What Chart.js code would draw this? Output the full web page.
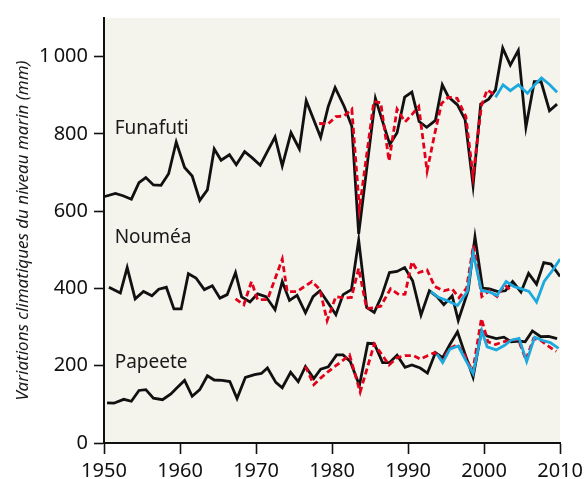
<!DOCTYPE html>
<html>
<head>
<meta charset="utf-8">
<script src="https://cdn.jsdelivr.net/npm/chart.js@4.4.1/dist/chart.umd.min.js"></script>
<style>
  html, body { margin: 0; padding: 0; background: #fff; }
  #wrap { width: 588px; height: 479px; position: relative; }
</style>
</head>
<body>
<div id="wrap"><canvas id="chart" width="588" height="479"></canvas></div>
<script>
// Funafuti
const funafutiYears = [1950.1, 1951.5, 1952.5, 1953.6, 1954.6, 1955.5, 1956.5, 1957.5, 1958.5, 1959.5,
  1960.6, 1961.6, 1962.6, 1963.6, 1964.5, 1965.4, 1966.5, 1967.4, 1968.5, 1969.5,
  1970.55, 1971.5, 1972.5, 1973.45, 1974.6, 1975.7, 1976.6, 1978.5, 1979.5, 1980.4,
  1981.6, 1982.6, 1983.5, 1985.7, 1986.6, 1987.6, 1988.55, 1989.55, 1990.5, 1991.45,
  1992.45, 1993.6, 1994.5, 1995.3, 1996.5, 1997.5, 1998.55, 1999.55, 2000.6, 2001.5,
  2002.45, 2003.45, 2004.5, 2005.5, 2006.6, 2007.5, 2008.6, 2009.6];
const funafutiRecon = [638, 646, 640, 631, 674, 687, 668, 667, 697, 779,
  713, 691, 628, 655, 761, 732, 746, 720, 754, 738,
  719, 755, 792, 717, 803, 761, 886, 791, 871, 920,
  871, 820, 541, 892, 835, 773, 803, 895, 908, 832,
  817, 835, 927, 896, 875, 837, 666, 877, 890, 914,
  1022, 978, 1016, 817, 935, 935, 860, 877];
const funafutiGaugeYears = [1978.3, 1979.5, 1980.5, 1981.55, 1982.6, 1983.6, 1985.5, 1986.4, 1987.5, 1988.55,
  1989.6, 1990.5, 1991.4, 1992.5, 1993.5, 1994.4, 1995.3, 1996.45, 1997.6, 1998.55,
  1999.65, 2000.4, 2001.4];
const funafutiGauge = [827, 826, 845, 846, 864, 606, 884, 881, 730, 864,
  831, 850, 871, 704, 800, 879, 895, 892, 845, 691,
  873, 914, 901];
const funafutiSeaframeYears = [2001.5, 2002.5, 2003.45, 2004.5, 2005.7, 2006.7, 2007.55, 2008.6, 2009.6];
const funafutiSeaframe = [895, 927, 912, 927, 905, 928, 945, 928, 908];

// Nouméa
const noumeaYears = [1950.65, 1952.15, 1953.05, 1954.1, 1955.2, 1956.3, 1957.2, 1958.2, 1959.2, 1960.15,
  1961.1, 1962.1, 1963.2, 1964.25, 1965.25, 1966.2, 1967.3, 1968.1, 1969.2, 1970.2,
  1971.3, 1972.5, 1973.45, 1974.4, 1975.4, 1976.5, 1977.5, 1978.4, 1979.5, 1980.5,
  1981.45, 1982.55, 1983.5, 1984.55, 1985.55, 1986.5, 1987.55, 1988.55, 1989.55, 1990.6,
  1991.7, 1992.8, 1993.8, 1994.7, 1995.8, 1996.6, 1997.9, 1998.8, 1999.8, 2000.7,
  2001.8, 2002.8, 2003.75, 2004.85, 2005.85, 2006.9, 2007.85, 2008.8, 2010.0];
const noumeaRecon = [403, 388, 454, 373, 392, 381, 398, 403, 347, 347,
  438, 427, 397, 407, 375, 384, 441, 378, 365, 386,
  379, 345, 418, 369, 382, 337, 379, 394, 362, 332,
  384, 397, 525, 351, 338, 379, 441, 444, 454, 420,
  331, 394, 379, 358, 381, 317, 394, 533, 401, 399,
  392, 394, 418, 391, 439, 411, 467, 463, 431];
const noumeaGaugeYears = [1967.3, 1968.4, 1969.4, 1970.2, 1971.5, 1973.45, 1974.1, 1975.4, 1977.35, 1978.4,
  1979.35, 1980.5, 1981.55, 1982.55, 1983.5, 1984.55, 1985.55, 1986.4, 1987.7, 1988.8,
  1989.6, 1990.5, 1991.4, 1992.5, 1993.5, 1994.7, 1995.8, 1996.7, 1997.7, 1998.6,
  1999.7, 2000.7, 2001.7, 2002.7, 2003.6];
const noumeaGauge = [373, 358, 418, 371, 371, 476, 392, 392, 418, 397,
  317, 379, 375, 377, 452, 348, 350, 354, 399, 384,
  385, 469, 441, 448, 405, 394, 399, 376, 401, 512,
  379, 394, 379, 409, 394];
const noumeaSatYears = [1993.0, 1994.0, 1995.2, 1996.5, 1997.8, 1998.55, 1999.65, 2000.7, 2001.7, 2002.9,
  2003.9, 2004.9, 2005.9, 2006.9, 2007.9, 2008.9, 2010.0];
const noumeaSat = [392, 377, 368, 356, 392, 491, 394, 391, 382, 418,
  405, 399, 392, 365, 418, 444, 476];

// Papeete
const papeeteYears = [1950.4, 1951.3, 1952.6, 1953.6, 1954.6, 1955.5, 1956.5, 1957.7, 1958.8, 1959.6,
  1960.6, 1961.6, 1962.6, 1963.6, 1964.5, 1965.55, 1966.55, 1967.5, 1968.6, 1969.8,
  1970.7, 1971.5, 1972.6, 1973.45, 1974.55, 1975.55, 1976.5, 1977.6, 1978.5, 1979.5,
  1980.6, 1981.45, 1982.4, 1983.6, 1984.7, 1985.55, 1986.65, 1987.55, 1988.55, 1989.6,
  1990.5, 1991.6, 1992.55, 1993.6, 1994.55, 1995.5, 1996.5, 1997.5, 1998.55, 1999.65,
  2000.4, 2001.6, 2002.6, 2003.55, 2004.6, 2005.4, 2006.35, 2007.45, 2008.5, 2009.6];
const papeeteRecon = [104, 103, 113, 108, 136, 138, 116, 112, 127, 143,
  162, 121, 138, 174, 163, 162, 159, 115, 170, 177,
  180, 194, 157, 143, 183, 159, 198, 167, 191, 197,
  228, 228, 211, 149, 258, 257, 208, 208, 227, 196,
  202, 194, 181, 234, 221, 255, 288, 230, 170, 290,
  277, 270, 274, 262, 264, 262, 290, 275, 276, 270];
const papeeteGaugeYears = [1976.5, 1977.6, 1978.5, 1979.5, 1980.5, 1981.5, 1982.3, 1983.7, 1985.55, 1986.65,
  1987.5, 1988.55, 1989.6, 1990.7, 1991.6, 1992.55, 1993.5, 1994.5, 1995.5, 1996.5,
  1997.5, 1998.5, 1999.65, 2000.5, 2001.5, 2002.5, 2003.5, 2004.5, 2005.5, 2006.5,
  2007.5, 2008.5, 2009.5];
const papeeteGauge = [198, 151, 168, 185, 200, 215, 228, 132, 256, 226,
  202, 221, 226, 226, 217, 226, 234, 215, 245, 255,
  225, 185, 322, 262, 255, 262, 266, 268, 215, 270,
  265, 250, 237];
const papeeteSatYears = [1993.8, 1994.55, 1995.5, 1996.6, 1997.5, 1998.55, 1999.7, 2000.4, 2001.6, 2002.7,
  2003.55, 2004.6, 2005.6, 2006.65, 2007.6, 2008.7, 2009.8];
const papeeteSat = [230, 208, 243, 251, 217, 180, 290, 249, 241, 253,
  266, 271, 211, 274, 266, 260, 245];

// axes and station labels
const yTickValues = [0, 200, 400, 600, 800, 1000];
const stationNames = ['Funafuti', 'Nouméa', 'Papeete'];
const stationLabelYears = [1951.4, 1951.4, 1951.4];
const stationLabelLevels = [813, 531, 208];

const BLACK = '#111111';
const RED = '#e2001a';
const BLUE = '#1ba9df';
const FONT = "'Noto Sans', 'DejaVu Sans', sans-serif";

function pts(xs, ys) {
    return xs.map((x, i) => ({ x: x, y: ys[i] }));
}

function solid(data, color) {
    return { data, borderColor: color, borderWidth: 2.8, pointRadius: 0, tension: 0, fill: false };
}

function dashed(data, color) {
    return { data, borderColor: color, borderWidth: 2.8, borderDash: [6, 3.5], pointRadius: 0, tension: 0, fill: false };
}

const datasets = [
    { ...solid(pts(funafutiYears, funafutiRecon), BLACK), order: 3 },
    { ...dashed(pts(funafutiGaugeYears, funafutiGauge), RED), order: 2 },
    { ...solid(pts(funafutiSeaframeYears, funafutiSeaframe), BLUE), order: 1 },
    { ...solid(pts(noumeaYears, noumeaRecon), BLACK), order: 3 },
    { ...dashed(pts(noumeaGaugeYears, noumeaGauge), RED), order: 2 },
    { ...solid(pts(noumeaSatYears, noumeaSat), BLUE), order: 1 },
    { ...solid(pts(papeeteYears, papeeteRecon), BLACK), order: 3 },
    { ...dashed(pts(papeeteGaugeYears, papeeteGauge), RED), order: 2 },
    { ...solid(pts(papeeteSatYears, papeeteSat), BLUE), order: 1 }
];

// beige plot background
const plotBackground = {
    id: 'plotBackground',
    beforeDraw(chart) {
        const { ctx, chartArea } = chart;
        ctx.save();
        ctx.fillStyle = '#f4f3ec';
        ctx.fillRect(chartArea.left, chartArea.top, chartArea.right - chartArea.left, chartArea.bottom - chartArea.top);
        ctx.restore();
    }
};

// station names written inside the plot
const stationLabels = {
    id: 'stationLabels',
    afterDatasetsDraw(chart) {
        const { ctx } = chart;
        const xs = chart.scales.x;
        const ys = chart.scales.y;
        ctx.save();
        ctx.font = '19px ' + FONT;
        ctx.fillStyle = '#1a1a1a';
        ctx.textAlign = 'left';
        ctx.textBaseline = 'middle';
        stationNames.forEach((name, i) => {
            ctx.fillText(name, xs.getPixelForValue(stationLabelYears[i]), ys.getPixelForValue(stationLabelLevels[i]));
        });
        ctx.restore();
    }
};

new Chart(document.getElementById('chart'), {
    type: 'line',
    data: { datasets },
    options: {
        responsive: false,
        animation: false,
        events: [],
        layout: { padding: { top: 14, right: 21, left: 0, bottom: 0 } },
        plugins: { legend: { display: false }, tooltip: { enabled: false } },
        scales: {
            x: {
                type: 'linear',
                min: 1950,
                max: 2010,
                afterFit: (scale) => { scale.height = 36; },
                ticks: {
                    stepSize: 10,
                    color: '#111',
                    font: { family: FONT, size: 20 },
                    padding: 5,
                    callback: (v) => String(v)
                },
                grid: { drawOnChartArea: false, drawTicks: true, tickLength: 11, tickColor: '#111', tickWidth: 1.6 },
                border: { display: true, color: '#111', width: 2 }
            },
            y: {
                type: 'linear',
                min: 0,
                max: 1100,
                afterFit: (scale) => { scale.width = 104; },
                afterBuildTicks: (scale) => { scale.ticks = yTickValues.map(v => ({ value: v })); },
                ticks: {
                    color: '#111',
                    font: { family: FONT, size: 20 },
                    padding: 6,
                    callback: (v) => v === 1000 ? '1\u2009000' : String(v)
                },
                grid: { drawOnChartArea: false, drawTicks: true, tickLength: 10, tickColor: '#111', tickWidth: 1.6 },
                border: { display: true, color: '#111', width: 2 },
                title: {
                    display: true,
                    text: 'Variations climatiques du niveau marin (mm)',
                    color: '#1a1a1a',
                    font: { family: FONT, size: 17, style: 'italic' },
                    padding: { top: 13, bottom: 0 }
                }
            }
        }
    },
    plugins: [plotBackground, stationLabels]
});
</script>
</body>
</html>
